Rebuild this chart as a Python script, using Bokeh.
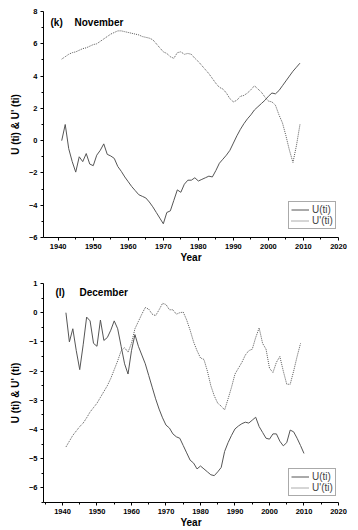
from bokeh.plotting import figure
from bokeh.models import FixedTicker, Label, Legend, LegendItem, Range1d
from bokeh.layouts import column
from bokeh.embed import file_html
from bokeh.resources import INLINE

FONT = "Liberation Sans"

# ---- November (k) ----
nov_years = list(range(1941, 2010))
nov_u = [0.0, 1.0, -0.5, -1.3, -1.95, -1.0, -1.3, -0.8, -1.45, -1.55,
         -0.9, -0.6, -0.2, -0.85, -0.95, -1.1, -1.6, -1.9, -2.25, -2.55,
         -2.85, -3.1, -3.35, -3.45, -3.55, -3.8, -4.1, -4.45, -4.8, -5.15,
         -4.45, -4.35, -3.7, -3.05, -3.2, -2.7, -2.45, -2.45, -2.3, -2.5,
         -2.4, -2.3, -2.2, -2.25, -1.85, -1.4, -1.15, -0.9, -0.6, -0.15,
         0.3, 0.7, 1.05, 1.35, 1.6, 1.9, 2.1, 2.3, 2.5, 2.75,
         2.95, 2.9, 3.1, 3.4, 3.7, 4.0, 4.3, 4.55, 4.8]
nov_u_rev = [5.05, 5.2, 5.35, 5.45, 5.5, 5.6, 5.7, 5.75, 5.85, 5.95,
             6.0, 6.15, 6.3, 6.45, 6.6, 6.7, 6.8, 6.8, 6.75, 6.7,
             6.65, 6.6, 6.55, 6.45, 6.4, 6.35, 6.25, 6.0, 5.75, 5.5,
             5.4, 5.2, 5.1, 5.45, 5.5, 5.35, 5.4, 5.35, 5.1, 4.9,
             4.65, 4.4, 4.15, 3.85, 3.55, 3.3, 3.2, 2.95, 2.6, 2.4,
             2.5, 2.75, 2.8, 2.95, 3.15, 3.4, 3.2, 3.0, 2.7, 2.45,
             2.4, 2.2, 1.6, 1.1, 0.3, -0.6, -1.35, -0.3, 1.0]

# ---- December (l) ----
dec_years_u = list(range(1941, 2011))
dec_u = [0.0, -1.0, -0.55, -1.3, -1.95, -1.1, -0.15, -0.28, -1.05, -1.15,
         -0.25, -0.95, -0.85, -0.6, -0.28, -0.55, -1.15, -1.75, -2.1, -1.3,
         -0.75, -1.15, -1.45, -1.75, -2.15, -2.55, -2.95, -3.3, -3.6, -3.85,
         -3.95, -4.15, -4.25, -4.3, -4.55, -4.8, -5.05, -5.15, -5.35, -5.25,
         -5.35, -5.45, -5.55, -5.58, -5.45, -5.3, -4.75, -4.45, -4.2, -3.98,
         -3.88, -3.8, -3.75, -3.78, -3.68, -3.58, -3.9, -4.1, -4.3, -4.33,
         -4.15, -4.15, -4.4, -4.56, -4.45, -4.02, -4.08, -4.3, -4.55, -4.82]
dec_years_ur = list(range(1941, 2010))
dec_u_rev = [-4.6, -4.4, -4.2, -4.05, -3.9, -3.78, -3.6, -3.4, -3.25, -3.1,
             -2.9, -2.7, -2.5, -2.25, -1.95, -1.65, -1.3, -1.2, -1.35, -1.05,
             -0.55, -0.3, -0.05, 0.18, 0.12, -0.05, -0.1, 0.1, 0.32, 0.28,
             0.1, 0.1, -0.05, 0.0, 0.02, -0.25, -0.6, -1.0, -1.3, -1.55,
             -1.6, -2.0, -2.5, -2.85, -3.1, -3.2, -3.33, -2.95, -2.55, -2.1,
             -1.9, -1.7, -1.45, -1.3, -1.25, -0.85, -0.52, -1.05, -1.25, -1.9,
             -2.05, -1.7, -1.5, -2.0, -2.45, -2.45, -2.0, -1.5, -1.05]

x_major = list(range(1940, 2021, 10))
x_minor = list(range(1935, 2020, 5))


def panel(height, borders, xr, yr, yticks, yminor, tag, month,
          xu, u, xr_, ur, tag_x, month_x, title_y, legend_xy):
    left, right, top, bottom = borders
    p = figure(width=358, height=height, output_backend="svg",
               toolbar_location=None, x_range=Range1d(*xr),
               y_range=Range1d(*yr),
               min_border_left=left, min_border_right=right,
               min_border_top=top, min_border_bottom=bottom)
    p.outline_line_color = None
    p.grid.grid_line_color = None
    p.background_fill_color = "white"
    p.border_fill_color = "white"

    r1 = p.line(xu, u, line_color="#555555", line_width=1)
    r2 = p.line(xr_, ur, line_color="#5a5a5a", line_width=1,
                line_dash="1 1")

    p.xaxis.ticker = FixedTicker(ticks=x_major, minor_ticks=x_minor)
    p.yaxis.ticker = FixedTicker(ticks=yticks, minor_ticks=yminor)
    p.xaxis.axis_label = "Year"
    p.yaxis.axis_label = "U (ti) & U' (ti)"
    for ax in (p.xaxis[0], p.yaxis[0]):
        ax.axis_line_color = "black"
        ax.major_tick_line_color = "black"
        ax.minor_tick_line_color = "black"
        ax.major_tick_out = 3
        ax.major_tick_in = 0
        ax.minor_tick_out = 2
        ax.minor_tick_in = 0
        ax.major_label_text_font = FONT
        ax.major_label_text_font_style = "bold"
        ax.major_label_text_font_size = "7.5px"
        ax.major_label_text_color = "black"
        ax.major_label_standoff = 3
        ax.axis_label_text_font = FONT
        ax.axis_label_text_font_style = "bold"
        ax.axis_label_text_font_size = "10px"
        ax.axis_label_text_color = "black"
    p.xaxis.axis_label_standoff = 0
    p.yaxis.axis_label_standoff = 5

    for txt, x in ((tag, tag_x), (month, month_x)):
        p.add_layout(Label(x=x, y=title_y, x_units="screen",
                           y_units="screen", text=txt,
                           text_font=FONT, text_font_style="bold",
                           text_font_size="10px", text_color="black",
                           text_baseline="middle"))

    legend = Legend(items=[LegendItem(label="U(ti)", renderers=[r1]),
                           LegendItem(label="U'(ti)", renderers=[r2])],
                    location=legend_xy, margin=0, padding=2, spacing=0,
                    label_text_font=FONT, label_text_font_size="10px",
                    label_standoff=3, label_height=11, glyph_height=11,
                    glyph_width=18, border_line_color="#555555",
                    border_line_width=1, background_fill_alpha=1)
    p.add_layout(legend)
    return p


top = panel(265, (39, 20, 11, 27), (1935.8, 2020), (-6, 8),
            list(range(-6, 9, 2)), list(range(-5, 8, 2)),
            "(k)", "November", nov_years, nov_u, nov_years, nov_u_rev,
            7, 31, 215, (245, 8))

bottom = panel(265, (43, 19, 18, 27), (1934.5, 2020), (-6.5, 1),
               list(range(-6, 2)), [v + 0.5 for v in range(-7, 1)],
               "(l)", "December", dec_years_u, dec_u, dec_years_ur,
               dec_u_rev, 12, 36, 210, (245, 6))

layout = column(top, bottom, spacing=0)
open("out.html", "w").write(file_html(layout, INLINE))
